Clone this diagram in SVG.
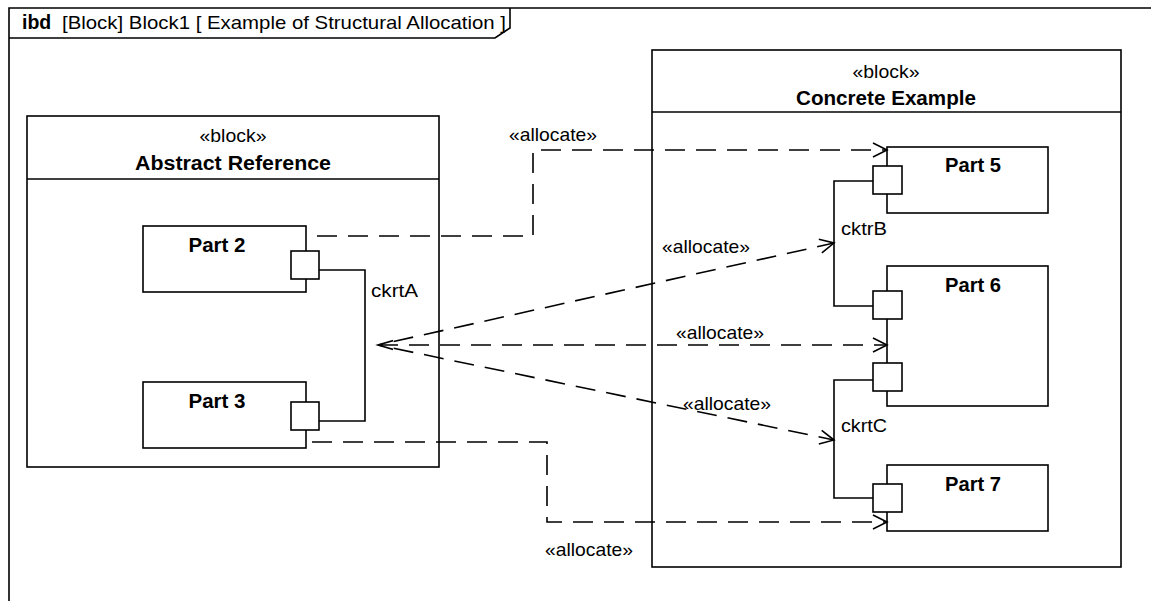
<svg xmlns="http://www.w3.org/2000/svg" width="1151" height="601" viewBox="0 0 1151 601">
<defs>
<style>
text{font-family:"Liberation Sans",Arial,sans-serif;fill:#000}
.n{font-size:19px}
.b{font-size:19.5px;font-weight:bold}
.box{fill:#fff;stroke:#000;stroke-width:1.6}
.ln{fill:none;stroke:#000;stroke-width:1.6}
.dash{fill:none;stroke:#000;stroke-width:1.6;stroke-dasharray:20 11}
</style>
<marker id="arr" markerUnits="userSpaceOnUse" markerWidth="30" markerHeight="30" refX="15" refY="15" orient="auto-start-reverse" viewBox="0 0 30 30">
<path d="M1,8 L15,15 L1,22" fill="none" stroke="#000" stroke-width="1.6"/>
</marker>
<marker id="arrL" markerUnits="userSpaceOnUse" markerWidth="30" markerHeight="30" refX="15" refY="15" orient="auto-start-reverse" viewBox="0 0 30 30">
<path d="M-2,10 L15,15 L-2,20" fill="none" stroke="#000" stroke-width="1.6"/>
</marker>
</defs>
<rect width="1151" height="601" fill="#fff"/>
<g id="frame">
<path class="ln" d="M9,601 V8 H1151"/>
<path class="ln" d="M9,38 H495 L510,28 V8"/>
<text class="b" x="22" y="29">ibd</text>
<text class="n" x="62" y="29" textLength="444" lengthAdjust="spacingAndGlyphs">[Block] Block1 [ Example of Structural Allocation ]</text>
</g>
<g id="abstract-reference">
<rect class="box" x="27" y="116" width="412" height="351"/>
<line class="ln" x1="27" y1="179" x2="439" y2="179"/>
<text class="n" x="233" y="142" text-anchor="middle" textLength="67" lengthAdjust="spacingAndGlyphs">«block»</text>
<text class="b" x="233" y="170" text-anchor="middle" textLength="196" lengthAdjust="spacingAndGlyphs">Abstract Reference</text>
</g>
<g id="concrete-example">
<rect class="box" x="652" y="50" width="469" height="517"/>
<line class="ln" x1="652" y1="112" x2="1121" y2="112"/>
<text class="n" x="886" y="78" text-anchor="middle" textLength="67" lengthAdjust="spacingAndGlyphs">«block»</text>
<text class="b" x="886" y="105" text-anchor="middle" textLength="180" lengthAdjust="spacingAndGlyphs">Concrete Example</text>
</g>
<g id="part2">
<rect class="box" x="143" y="226" width="163" height="66"/>
<text class="b" x="217" y="252" text-anchor="middle" textLength="57" lengthAdjust="spacingAndGlyphs">Part 2</text>
<rect class="box" x="291" y="251" width="28" height="28"/>
</g>
<g id="part3">
<rect class="box" x="143" y="382" width="163" height="66"/>
<text class="b" x="217" y="408" text-anchor="middle" textLength="57" lengthAdjust="spacingAndGlyphs">Part 3</text>
<rect class="box" x="291" y="402" width="28" height="28"/>
</g>
<g id="part5">
<rect class="box" x="887" y="147" width="161" height="66"/>
<text class="b" x="973" y="172" text-anchor="middle" textLength="56" lengthAdjust="spacingAndGlyphs">Part 5</text>
<rect class="box" x="873" y="166" width="29" height="28"/>
</g>
<g id="part6">
<rect class="box" x="887" y="266" width="161" height="140"/>
<text class="b" x="973" y="292" text-anchor="middle" textLength="56" lengthAdjust="spacingAndGlyphs">Part 6</text>
<rect class="box" x="873" y="291" width="29" height="28"/>
<rect class="box" x="873" y="363" width="29" height="28"/>
</g>
<g id="part7">
<rect class="box" x="887" y="465" width="161" height="66"/>
<text class="b" x="973" y="491" text-anchor="middle" textLength="56" lengthAdjust="spacingAndGlyphs">Part 7</text>
<rect class="box" x="873" y="484" width="29" height="28"/>
</g>
<g id="connectors">
<polyline class="ln" points="319,270 365,270 365,421 319,421"/>
<text class="n" x="371" y="297" textLength="47" lengthAdjust="spacingAndGlyphs">ckrtA</text>
<polyline class="ln" points="873,181 834,181 834,306 873,306"/>
<text class="n" x="841" y="235" textLength="46" lengthAdjust="spacingAndGlyphs">cktrB</text>
<polyline class="ln" points="873,380 834,380 834,498 873,498"/>
<text class="n" x="841" y="432" textLength="46" lengthAdjust="spacingAndGlyphs">ckrtC</text>

<path class="dash" d="M306,236 H533 V150 H887" stroke-dashoffset="-11" marker-end="url(#arr)"/>
<text class="n" x="553" y="141" text-anchor="middle" textLength="88" lengthAdjust="spacingAndGlyphs">«allocate»</text>
<path class="dash" d="M306,442 H547 V522 H887" stroke-dashoffset="-6" marker-end="url(#arr)"/>
<text class="n" x="589" y="556" text-anchor="middle" textLength="88" lengthAdjust="spacingAndGlyphs">«allocate»</text>
<path class="dash" d="M378,345 H887" marker-start="url(#arrL)" marker-end="url(#arr)"/>
<text class="n" x="720" y="339" text-anchor="middle" textLength="88" lengthAdjust="spacingAndGlyphs">«allocate»</text>
<path class="dash" d="M378,345 L834,243" stroke-dashoffset="-16" marker-end="url(#arr)"/>
<text class="n" x="706" y="253" text-anchor="middle" textLength="88" lengthAdjust="spacingAndGlyphs">«allocate»</text>
<path class="dash" d="M378,345 L834,440" stroke-dashoffset="-16" marker-end="url(#arr)"/>
<text class="n" x="727" y="410" text-anchor="middle" textLength="88" lengthAdjust="spacingAndGlyphs">«allocate»</text>
</g>
</svg>
